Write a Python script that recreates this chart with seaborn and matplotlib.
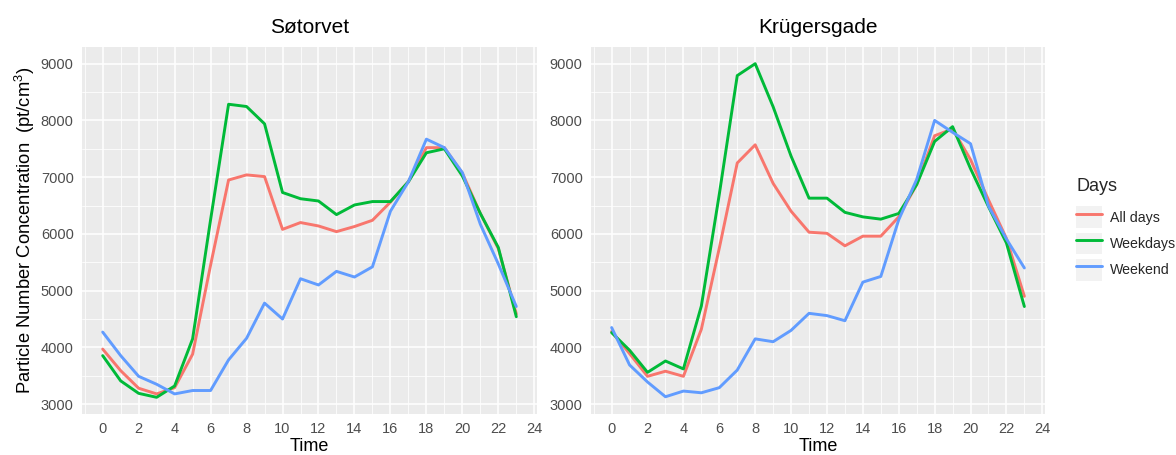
import numpy as np
import pandas as pd
import seaborn as sns
import matplotlib
matplotlib.use("Agg")
import matplotlib.pyplot as plt
from matplotlib.ticker import MultipleLocator
from matplotlib.patches import Patch
from matplotlib.legend_handler import HandlerTuple

hours = list(range(24))
categories = ["All days", "Weekdays", "Weekend"]
stations = ["Søtorvet", "Krügersgade"]

sot_all = [3970, 3590, 3280, 3180, 3290, 3880, 5450, 6950, 7040, 7010, 6080, 6200,
           6140, 6040, 6130, 6240, 6560, 6920, 7520, 7520, 7070, 6360, 5740, 4590]
sot_weekdays = [3855, 3410, 3190, 3120, 3320, 4150, 6250, 8285, 8245, 7940, 6730, 6620,
                6580, 6340, 6510, 6570, 6570, 6920, 7430, 7500, 7020, 6360, 5760, 4540]
sot_weekend = [4270, 3855, 3490, 3350, 3180, 3240, 3240, 3780, 4160, 4780, 4500, 5210,
               5100, 5340, 5240, 5420, 6400, 6920, 7670, 7520, 7080, 6170, 5470, 4720]

kru_all = [4280, 3890, 3490, 3580, 3490, 4320, 5750, 7250, 7570, 6890, 6400, 6030,
           6010, 5790, 5960, 5960, 6300, 6870, 7730, 7850, 7310, 6600, 5920, 4900]
kru_weekdays = [4260, 3950, 3560, 3760, 3620, 4730, 6700, 8790, 9000, 8240, 7370, 6630,
                6630, 6380, 6300, 6260, 6360, 6870, 7630, 7890, 7150, 6480, 5840, 4720]
kru_weekend = [4350, 3690, 3390, 3130, 3230, 3200, 3290, 3600, 4150, 4100, 4300, 4600,
               4560, 4470, 5150, 5250, 6250, 6960, 8000, 7790, 7590, 6490, 5910, 5400]

x_ticks = list(range(0, 25, 2))
y_ticks = [3000, 4000, 5000, 6000, 7000, 8000, 9000]

palette = {"All days": "#F8766D", "Weekdays": "#00BA38", "Weekend": "#619CFF"}


def long_frame(series):
    rows = []
    for cat, vals in zip(categories, series):
        for h, v in zip(hours, vals):
            rows.append({"Time": h, "Value": v, "Days": cat})
    return pd.DataFrame(rows)


frames = {
    "Søtorvet": long_frame([sot_all, sot_weekdays, sot_weekend]),
    "Krügersgade": long_frame([kru_all, kru_weekdays, kru_weekend]),
}

sns.set_theme(style="darkgrid")
plt.rcParams["font.family"] = ["Liberation Sans", "DejaVu Sans"]
plt.rcParams["mathtext.fontset"] = "custom"
plt.rcParams["mathtext.rm"] = "Liberation Sans"
plt.rcParams["mathtext.it"] = "Liberation Sans"

fig = plt.figure(figsize=(11.76, 4.55), dpi=100)
fig.patch.set_facecolor("white")
ax1 = fig.add_axes([82 / 1176, 1 - 414 / 455, (537 - 82) / 1176, (414 - 47) / 455])
ax2 = fig.add_axes([591 / 1176, 1 - 414 / 455, (1045 - 591) / 1176, (414 - 47) / 455])

for ax, st in zip([ax1, ax2], stations):
    sns.lineplot(data=frames[st], x="Time", y="Value", hue="Days", palette=palette,
                 hue_order=categories, linewidth=2.1, ax=ax, legend=(ax is ax2))
    ax.set_facecolor("#EBEBEB")
    ax.set_xlim(-1.15, 24.15)
    ax.set_ylim(2826, 9294)
    ax.set_xticks(x_ticks)
    ax.set_yticks(y_ticks)
    ax.xaxis.set_minor_locator(MultipleLocator(1))
    ax.yaxis.set_minor_locator(MultipleLocator(500))
    ax.grid(which="major", color="white", linewidth=1.1)
    ax.grid(which="minor", color="white", linewidth=0.55)
    ax.set_axisbelow(True)
    for s in ax.spines.values():
        s.set_visible(False)
    ax.tick_params(which="major", length=3, width=0.9, color="#333333",
                   labelsize=10.5, labelcolor="#4D4D4D", pad=3)
    ax.tick_params(which="minor", length=0)
    ax.set_title(st, fontsize=15, color="black", pad=10)
    ax.set_xlabel("Time", fontsize=13, color="black", labelpad=1)
    ax.set_ylabel("")

ax1.set_ylabel("Particle Number Concentration  (pt/cm$^3$)", fontsize=13.2,
               color="black", labelpad=3)

# legend
leg_old = ax2.get_legend()
labels = [t.get_text() for t in leg_old.get_texts()]
leg_old.remove()
new_handles = []
for lab in labels:
    ln = plt.Line2D([], [], color=palette[lab], linewidth=2.1)
    new_handles.append((Patch(facecolor="#F2F2F2", edgecolor="none"), ln))
leg = fig.legend(new_handles, categories, title="Days",
                 handler_map={tuple: HandlerTuple(ndivide=1, pad=0)},
                 loc="upper left", bbox_to_anchor=(1065 / 1176, 1 - 167 / 455),
                 frameon=False, fontsize=10.2, title_fontsize=13,
                 handlelength=1.8, handleheight=2.0, labelspacing=0.3,
                 handletextpad=0.55, borderpad=0.3, alignment="left")
leg._legend_box.sep = 8

fig.savefig("out.png", dpi=100, facecolor="white")
